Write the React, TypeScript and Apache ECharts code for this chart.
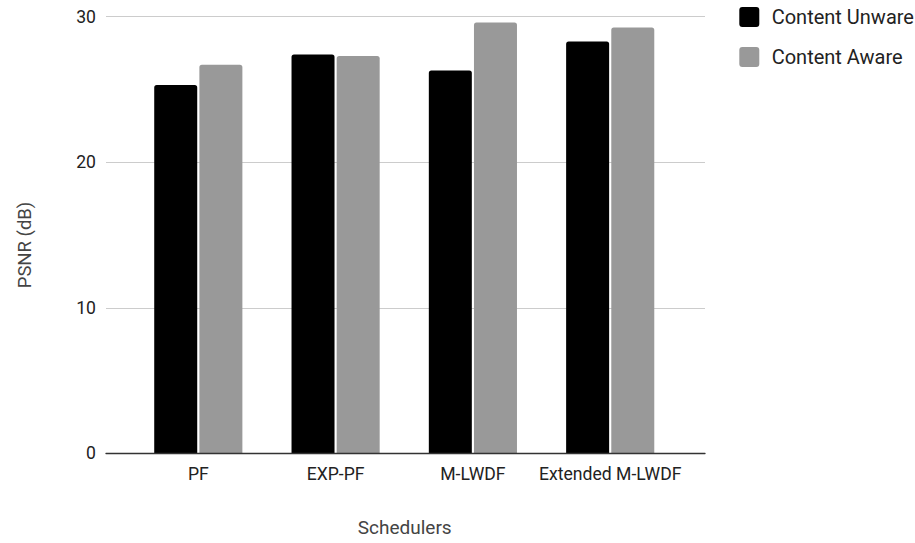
import React, { useEffect, useRef } from "react";
import * as echarts from "echarts";

const categories = ["PF", "EXP-PF", "M-LWDF", "Extended M-LWDF"];
const contentUnware = [25.3, 27.4, 26.3, 28.3];
const contentAware = [26.7, 27.3, 29.6, 29.25];
const seriesNames = ["Content Unware", "Content Aware"];
const yTicks = { min: 0, max: 30, interval: 10 };
const xTitle = "Schedulers";
const yTitle = "PSNR (dB)";

export default function App() {
  const ref = useRef<HTMLDivElement>(null);
  useEffect(() => {
    if (!ref.current) return;
    const chart = echarts.init(ref.current, undefined, { renderer: "svg" });
    const font = "Roboto";
    const top = 16.7;
    const bottom = 543 - 453.3;
    const legendIcon =
      "path://M3,0 H17 Q20,0 20,3 V17 Q20,20 17,20 H3 Q0,20 0,17 V3 Q0,0 3,0 Z";
    chart.setOption({
      animation: false,
      backgroundColor: "#ffffff",
      textStyle: { fontFamily: font },
      grid: [
        { left: 106, right: 210, top, bottom, containLabel: false },
        { left: 129.65, right: 236.15, top, bottom, containLabel: false },
      ],
      legend: {
        orient: "vertical",
        left: 739.3,
        top: 7,
        padding: 0,
        itemWidth: 20,
        itemHeight: 20,
        itemGap: 20,
        icon: legendIcon,
        data: seriesNames,
        textStyle: {
          fontFamily: font,
          fontSize: 20,
          color: "#222222",
          padding: [0, 0, 0, 7.4],
        },
      },
      xAxis: [
        {
          gridIndex: 0,
          type: "category",
          data: categories,
          z: 5,
          axisLine: { show: true, lineStyle: { color: "#333333", width: 1.3 } },
          axisTick: { show: false },
          axisLabel: { show: false },
          splitLine: { show: false },
        },
        {
          gridIndex: 1,
          type: "category",
          data: categories,
          axisLine: { show: false },
          axisTick: { show: false },
          axisLabel: {
            show: true,
            fontFamily: font,
            fontSize: 17.6,
            color: "#222222",
            margin: 12,
            interval: 0,
          },
          splitLine: { show: false },
        },
      ],
      yAxis: [
        {
          gridIndex: 0,
          type: "value",
          min: yTicks.min,
          max: yTicks.max,
          interval: yTicks.interval,
          axisLine: { show: false },
          axisTick: { show: false },
          axisLabel: {
            fontFamily: font,
            fontSize: 17.6,
            color: "#222222",
            margin: 10,
          },
          splitLine: { show: true, lineStyle: { color: "#cccccc", width: 1 } },
        },
        {
          gridIndex: 1,
          type: "value",
          min: yTicks.min,
          max: yTicks.max,
          interval: yTicks.interval,
          show: false,
          splitLine: { show: false },
        },
      ],
      series: [
        {
          name: seriesNames[0],
          type: "bar",
          xAxisIndex: 1,
          yAxisIndex: 1,
          data: contentUnware,
          barWidth: 43,
          barGap: "5%",
          itemStyle: { color: "#000000", borderRadius: [2.5, 2.5, 0, 0] },
        },
        {
          name: seriesNames[1],
          type: "bar",
          xAxisIndex: 1,
          yAxisIndex: 1,
          data: contentAware,
          barWidth: 43,
          barGap: "5%",
          itemStyle: { color: "#999999", borderRadius: [2.5, 2.5, 0, 0] },
        },
      ],
      graphic: [
        {
          type: "text",
          x: 25,
          y: 245,
          rotation: Math.PI / 2,
          style: {
            text: yTitle,
            fontFamily: font,
            fontSize: 18.5,
            fill: "#444444",
            align: "center",
            verticalAlign: "middle",
          },
        },
        {
          type: "text",
          x: 404.7,
          y: 527.5,
          style: {
            text: xTitle,
            fontFamily: font,
            fontSize: 19,
            fill: "#444444",
            align: "center",
            verticalAlign: "middle",
          },
        },
      ],
    });
    return () => chart.dispose();
  }, []);
  return (
    <div
      ref={ref}
      style={{ position: "absolute", left: 0, top: 0, width: 915, height: 543 }}
    />
  );
}
